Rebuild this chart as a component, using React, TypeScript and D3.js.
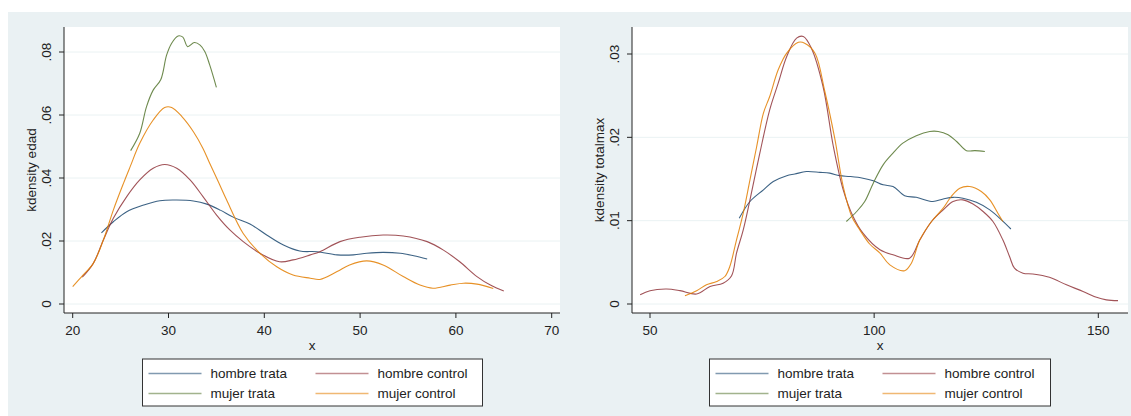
import React from "react";
import * as d3 from "d3";

// Series names, in legend order
const seriesNames = ["hombre trata", "hombre control", "mujer trata", "mujer control"];
const seriesColors = ["#1a476f", "#90353b", "#55752f", "#e37e00"];

// Panel 1: kernel density of edad — [x, density]
const edadHombreTrata: [number, number][] = [
  [23.0, 0.0226], [24.24, 0.0261], [25.64, 0.0293], [27.4, 0.0314], [29.1, 0.0328],
  [30.86, 0.033], [32.6, 0.0327], [34.0, 0.0317], [35.4, 0.0298], [36.8, 0.0275],
  [38.5, 0.0254], [40.25, 0.0219], [42.0, 0.0187], [43.7, 0.0168], [45.5, 0.0166],
  [47.6, 0.0156], [49.3, 0.0156], [50.7, 0.0161], [52.4, 0.0164], [54.2, 0.0161],
  [55.6, 0.0153], [57.0, 0.0143],
];
const edadHombreControl: [number, number][] = [
  [21.0, 0.0085], [22.15, 0.0129], [23.2, 0.0203], [24.24, 0.0272], [25.64, 0.0341],
  [27.0, 0.0394], [28.4, 0.0431], [29.6, 0.0443], [30.86, 0.0431], [32.25, 0.0394],
  [33.6, 0.0341], [35.0, 0.0283], [36.4, 0.0235], [37.8, 0.0198], [39.55, 0.0161],
  [41.6, 0.0134], [43.0, 0.014], [44.8, 0.0156], [45.8, 0.0166], [47.9, 0.0198],
  [50.0, 0.0212], [52.4, 0.0219], [54.5, 0.0216], [57.0, 0.0198], [58.7, 0.0171],
  [60.4, 0.0134], [62.2, 0.0087], [63.6, 0.006], [65.0, 0.0041],
];
const edadMujerTrata: [number, number][] = [
  [26.05, 0.0487], [27.0, 0.0542], [27.7, 0.0626], [28.4, 0.0679], [29.2, 0.0713],
  [29.8, 0.079], [30.33, 0.0828], [31.0, 0.0851], [31.5, 0.0847], [32.0, 0.0817],
  [32.7, 0.083], [33.3, 0.0822], [33.8, 0.0801], [34.3, 0.0759], [35.0, 0.0688],
];
const edadMujerControl: [number, number][] = [
  [20.0, 0.0055], [20.94, 0.0087], [22.15, 0.0129], [23.2, 0.0203], [24.24, 0.0298],
  [25.3, 0.0383], [26.0, 0.0436], [27.0, 0.051], [28.4, 0.0584], [29.6, 0.0624],
  [30.33, 0.0624], [31.4, 0.0595], [32.6, 0.0547], [33.6, 0.0494], [34.3, 0.0447],
  [35.2, 0.0388], [36.07, 0.033], [37.8, 0.0224], [39.55, 0.0161], [41.3, 0.0118],
  [43.0, 0.0092], [44.8, 0.0082], [45.8, 0.0078], [47.6, 0.0103], [48.9, 0.0124],
  [50.7, 0.0137], [52.4, 0.0124], [54.5, 0.0087], [56.25, 0.006], [57.6, 0.005],
  [59.4, 0.006], [60.8, 0.0066], [62.2, 0.0063], [63.9, 0.0049],
];

// Panel 2: kernel density of totalmax — [x, density]
const totalHombreTrata: [number, number][] = [
  [69.9, 0.0103], [72.3, 0.0123], [75.3, 0.0137], [77.5, 0.0147], [80.5, 0.0154],
  [82.3, 0.0156], [84.9, 0.0159], [87.9, 0.0158], [90.1, 0.0157], [92.3, 0.0154],
  [94.6, 0.0153], [97.5, 0.0151], [99.8, 0.0148], [102.0, 0.0143], [104.2, 0.0141],
  [106.8, 0.013], [109.4, 0.0128], [113.1, 0.0123], [115.4, 0.0126], [117.6, 0.0128],
  [119.8, 0.0127], [122.8, 0.0122], [125.8, 0.0113], [128.4, 0.0101], [130.5, 0.009],
];
const totalHombreControl: [number, number][] = [
  [47.8, 0.0011], [50.0, 0.0016], [53.7, 0.0018], [56.7, 0.0016], [60.4, 0.0012],
  [63.4, 0.0021], [66.3, 0.0025], [68.2, 0.0034], [69.3, 0.0061], [70.8, 0.0089],
  [72.3, 0.0125], [74.5, 0.0181], [76.7, 0.0233], [78.6, 0.0265], [80.5, 0.0297],
  [82.7, 0.0319], [84.2, 0.0321], [86.0, 0.0307], [88.6, 0.0261], [90.9, 0.0189],
  [93.1, 0.0137], [95.3, 0.0105], [97.5, 0.0085], [101.3, 0.0065], [104.2, 0.0059],
  [107.9, 0.0055], [110.2, 0.0077], [112.8, 0.0099], [115.4, 0.0113], [117.6, 0.0123],
  [119.8, 0.0125], [122.05, 0.012], [124.3, 0.0111], [126.5, 0.0099], [128.7, 0.0077],
  [130.2, 0.0057], [131.3, 0.0043], [133.2, 0.0037], [135.4, 0.0036], [139.1, 0.0032],
  [142.9, 0.0023], [146.6, 0.0015], [149.6, 0.0008], [151.8, 0.0005], [154.4, 0.0004],
];
const totalMujerTrata: [number, number][] = [
  [93.8, 0.0099], [96.1, 0.0111], [97.9, 0.0123], [99.8, 0.0145], [102.0, 0.0167],
  [104.2, 0.0181], [106.4, 0.0193], [109.4, 0.0202], [112.4, 0.0207], [114.3, 0.0207],
  [116.5, 0.0203], [118.4, 0.0195], [120.6, 0.0184], [122.5, 0.0184], [124.7, 0.0183],
];
const totalMujerControl: [number, number][] = [
  [57.8, 0.001], [60.4, 0.0016], [62.6, 0.0023], [64.9, 0.0027], [66.7, 0.0033],
  [67.8, 0.0045], [69.3, 0.0077], [70.8, 0.0109], [72.3, 0.0149], [73.8, 0.0189],
  [75.3, 0.0229], [76.7, 0.0249], [78.6, 0.0281], [80.5, 0.0301], [83.1, 0.0314],
  [84.5, 0.0313], [86.8, 0.0301], [89.0, 0.0255], [91.2, 0.0199], [93.1, 0.0141],
  [95.0, 0.0105], [96.8, 0.0089], [99.0, 0.0072], [101.3, 0.0061], [103.5, 0.0047],
  [106.8, 0.004], [108.3, 0.0049], [110.2, 0.0077], [112.8, 0.0099], [115.4, 0.0115],
  [117.2, 0.0129], [119.1, 0.0139], [121.3, 0.0141], [123.9, 0.0135], [125.8, 0.0125],
  [127.6, 0.0109], [128.7, 0.0099],
];

// Axis ticks
const edadXTicks = [20, 30, 40, 50, 60, 70];
const edadYTicks = [0, 0.02, 0.04, 0.06, 0.08];
const totalXTicks = [50, 100, 150];
const totalYTicks = [0, 0.01, 0.02, 0.03];

const FONT = "'Liberation Sans', Arial, sans-serif";
const BG = "#eaf1f3";
const GRID = "#eaf2f3";

const fmtY = (v: number) => (v === 0 ? "0" : d3.format(".2f")(v).replace(/^0/, ""));

type PanelProps = {
  left: number;
  right: number;
  xDomain: [number, number];
  xRange: [number, number];
  yDomain: [number, number];
  yRange: [number, number];
  xTicks: number[];
  yTicks: number[];
  yTitle: string;
  series: [number, number][][];
  legendX: number;
  legendW: number;
};

function Panel(p: PanelProps) {
  const top = 27;
  const bottom = 313;
  const x = d3.scaleLinear().domain(p.xDomain).range(p.xRange);
  const y = d3.scaleLinear().domain(p.yDomain).range(p.yRange);
  const line = d3
    .line<[number, number]>()
    .x((d) => x(d[0]))
    .y((d) => y(d[1]))
    .curve(d3.curveCatmullRom.alpha(0.5));
  const midY = (top + bottom) / 2;
  const legendTop = 359;
  const legendH = 47;
  const col2 = p.legendX + 167;
  return (
    <g>
      <rect x={p.left} y={top} width={p.right - p.left} height={bottom - top} fill="#ffffff" />
      {p.yTicks.map((t) => (
        <line key={"g" + t} x1={p.left} x2={p.right} y1={y(t)} y2={y(t)} stroke={GRID} strokeWidth={1} />
      ))}
      {p.series.map((s, i) => (
        <path
          key={i}
          d={line(s) || ""}
          fill="none"
          stroke={seriesColors[i]}
          strokeWidth={1.1}
          strokeOpacity={0.85}
        />
      ))}
      {/* axes */}
      <line x1={p.left} x2={p.left} y1={top} y2={bottom} stroke="#222" strokeWidth={1} />
      <line x1={p.left} x2={p.right} y1={bottom} y2={bottom} stroke="#222" strokeWidth={1} />
      {p.yTicks.map((t) => (
        <g key={"y" + t}>
          <line x1={p.left - 5} x2={p.left} y1={y(t)} y2={y(t)} stroke="#222" />
          <text
            transform={`translate(${p.left - 18},${y(t)}) rotate(-90)`}
            textAnchor="middle"
            dominantBaseline="central"
            fontFamily={FONT}
            fontSize={13.5}
            fill="#222"
          >
            {fmtY(t)}
          </text>
        </g>
      ))}
      {p.xTicks.map((t) => (
        <g key={"x" + t}>
          <line x1={x(t)} x2={x(t)} y1={bottom} y2={bottom + 5} stroke="#222" />
          <text
            x={x(t)}
            y={330}
            textAnchor="middle"
            dominantBaseline="central"
            fontFamily={FONT}
            fontSize={13.5}
            fill="#222"
          >
            {t}
          </text>
        </g>
      ))}
      <text
        x={(p.left + p.right) / 2}
        y={345}
        textAnchor="middle"
        dominantBaseline="central"
        fontFamily={FONT}
        fontSize={13.5}
        fill="#222"
      >
        x
      </text>
      <text
        transform={`translate(${p.left - 33},${midY}) rotate(-90)`}
        textAnchor="middle"
        dominantBaseline="central"
        fontFamily={FONT}
        fontSize={13.5}
        fill="#222"
      >
        {p.yTitle}
      </text>
      {/* legend */}
      <rect
        x={p.legendX}
        y={legendTop}
        width={p.legendW}
        height={legendH}
        fill="#ffffff"
        stroke="#333"
        strokeWidth={1}
      />
      {seriesNames.map((name, i) => {
        const cx = i % 2 === 0 ? p.legendX + 6 : col2 + 6;
        const cy = i < 2 ? 373.5 : 393.5;
        return (
          <g key={name}>
            <line x1={cx} x2={cx + 53} y1={cy} y2={cy} stroke={seriesColors[i]} strokeOpacity={0.55} strokeWidth={1.5} />
            <text
              x={cx + 62}
              y={cy}
              dominantBaseline="central"
              fontFamily={FONT}
              fontSize={13.5}
              fill="#222"
            >
              {name}
            </text>
          </g>
        );
      })}
    </g>
  );
}

export default function App() {
  return (
    <svg
      width={1131}
      height={416}
      style={{ position: "absolute", left: 0, top: 0, display: "block" }}
    >
      <rect x={0} y={0} width={1131} height={416} fill="#ffffff" />
      <rect x={8} y={12} width={1123} height={404} fill={BG} />
      <Panel
        left={64}
        right={560}
        xDomain={[20, 70]}
        xRange={[72.7, 551.7]}
        yDomain={[0, 0.08]}
        yRange={[304, 52]}
        xTicks={edadXTicks}
        yTicks={edadYTicks}
        yTitle="kdensity edad"
        series={[edadHombreTrata, edadHombreControl, edadMujerTrata, edadMujerControl]}
        legendX={142.5}
        legendW={340}
      />
      <Panel
        left={632}
        right={1128}
        xDomain={[50, 150]}
        xRange={[650, 1098.3]}
        yDomain={[0, 0.03]}
        yRange={[304, 54]}
        xTicks={totalXTicks}
        yTicks={totalYTicks}
        yTitle="kdensity totalmax"
        series={[totalHombreTrata, totalHombreControl, totalMujerTrata, totalMujerControl]}
        legendX={709.5}
        legendW={341}
      />
    </svg>
  );
}
